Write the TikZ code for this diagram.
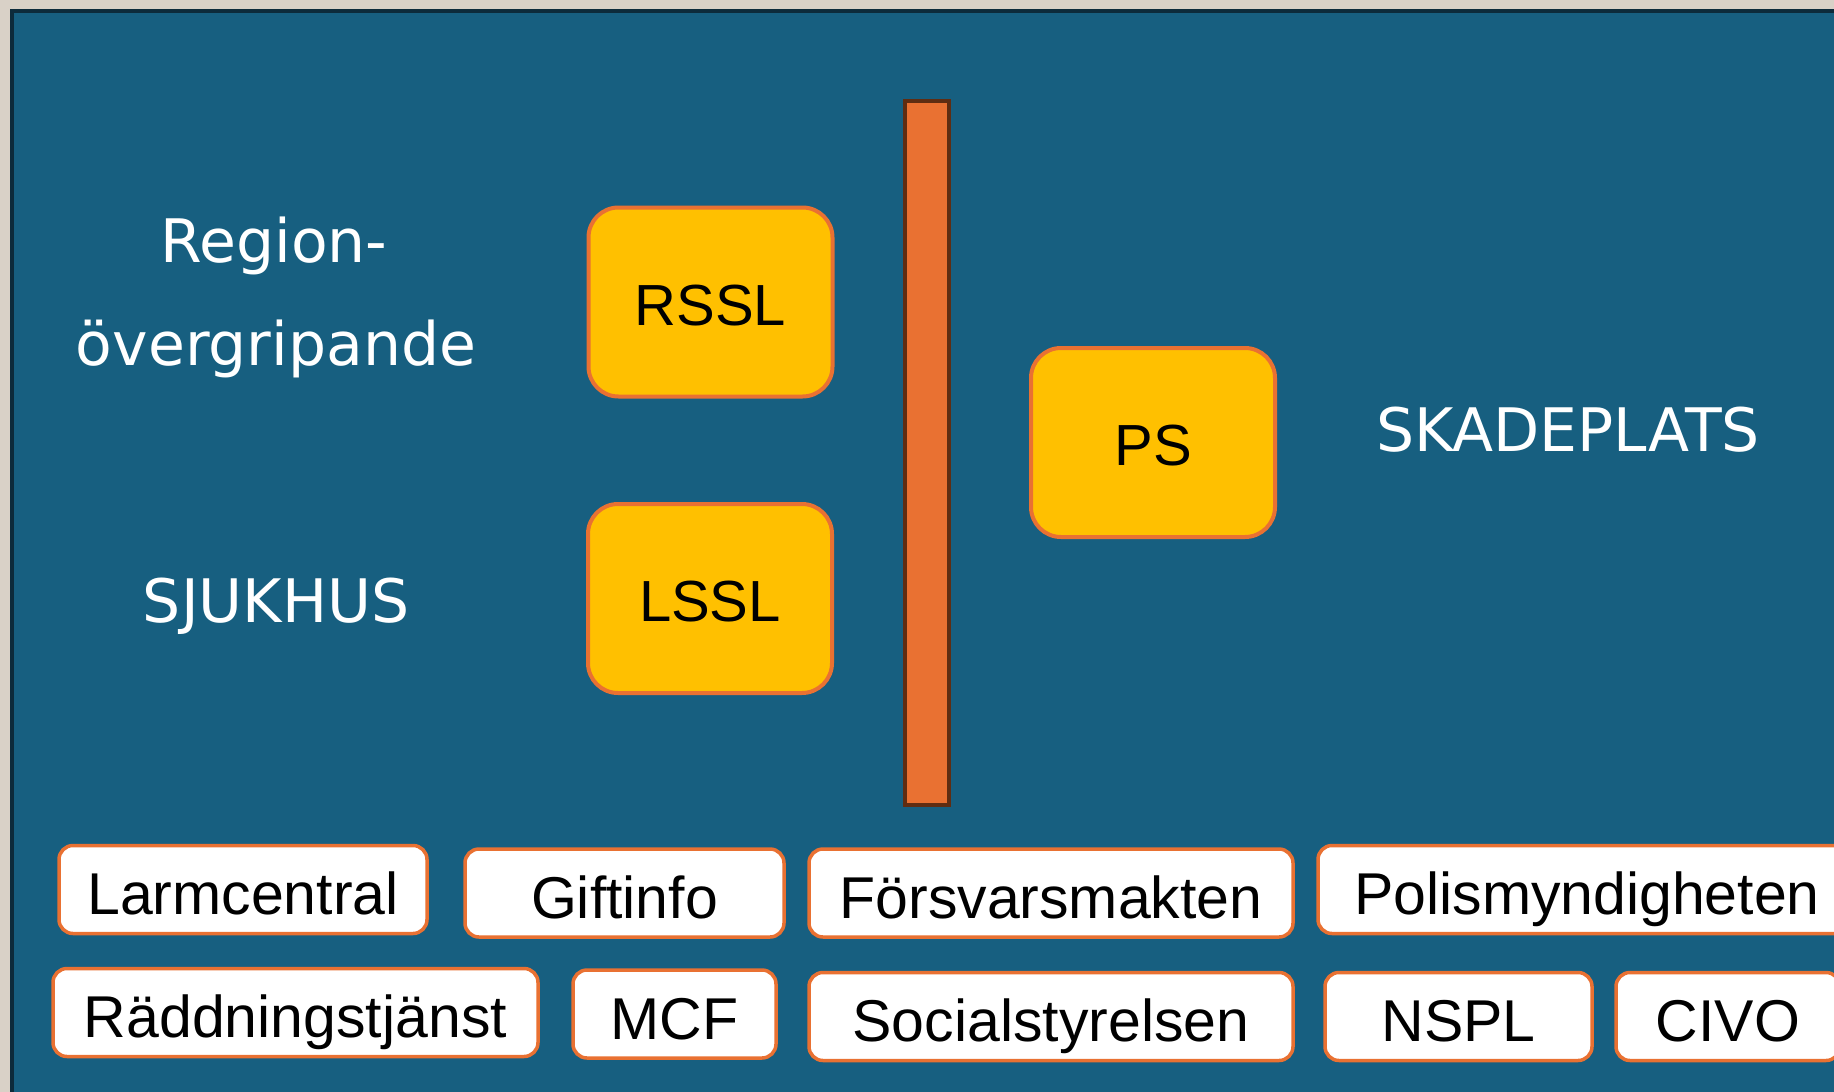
\documentclass[tikz,border=0pt]{standalone}
\usepackage{fontspec}
\setmainfont{Liberation Sans}
\newfontfamily\verdfont{DejaVu Sans}
\usepackage{tikz}
\usetikzlibrary{positioning}

\definecolor{bgbeige}{HTML}{D9D1C7}
\definecolor{slideblue}{HTML}{175F80}
\definecolor{framedark}{HTML}{0D2B3B}
\definecolor{boxorange}{HTML}{E97132}
\definecolor{boxyellow}{HTML}{FFC000}
\definecolor{barbrown}{HTML}{5F2D12}

\begin{document}
\begin{tikzpicture}[x=1pt,y=-1pt]
      \tikzstyle{level} = [draw=boxorange,fill=boxyellow,line width=4pt,rounded corners=30pt,
        minimum width=244pt,minimum height=189pt,inner sep=0pt,text height=46pt,text depth=0pt,
        font=\fontsize{58}{70}\selectfont]
      \tikzstyle{actor} = [draw=boxorange,fill=white,line width=3.5pt,rounded corners=14pt,
        minimum height=88pt,inner sep=0pt,text height=50pt,text depth=0pt,
        font=\fontsize{59}{71}\selectfont]
      \tikzstyle{lbl} = [text=white,anchor=base,inner sep=0pt,font=\verdfont\fontsize{60}{72}\selectfont]
      \clip (0,0) rectangle (1834,1092);
      \fill[bgbeige] (0,0) rectangle (1834,1092);
      \filldraw[fill=slideblue,draw=framedark,line width=4pt] (12,10.5) rectangle (1900,1200);
      % levels
      \node[lbl] (region) at (274,262) {Region-};
      \node[lbl] (overgr) at (276,365) {övergripande};
      \node[lbl] (sjukhus) at (276,622) {SJUKHUS};
      \node[lbl] (skadeplats) at (1568,451) {SKADEPLATS};
      \node[level] (rssl) at (710.5,302) {RSSL};
      \node[level] (lssl) at (710,598.5) {LSSL};
      \node[level] (ps) at (1153,442.5) {PS};
      \filldraw[fill=boxorange,draw=barbrown,line width=4pt] (905,101) rectangle (949,805);
      % actors
      \foreach \n/\x/\y/\w/\t in {lc/243/889.5/368/Larmcentral, gi/624.5/893/319/Giftinfo,
          fm/1051/893/484/Försvarsmakten, pm/1587/889.5/538/Polismyndigheten,
          rt/295.5/1012.5/485/Räddningstjänst, mcf/674.5/1014/203/MCF,
          ss/1051/1016.5/484/Socialstyrelsen, nspl/1458.5/1016.5/267/NSPL,
          civo/1728/1016.5/224/CIVO}{
        \node[actor,minimum width=\w pt] (\n) at (\x,\y) {\t};
      }
    \end{tikzpicture}
\end{document}
